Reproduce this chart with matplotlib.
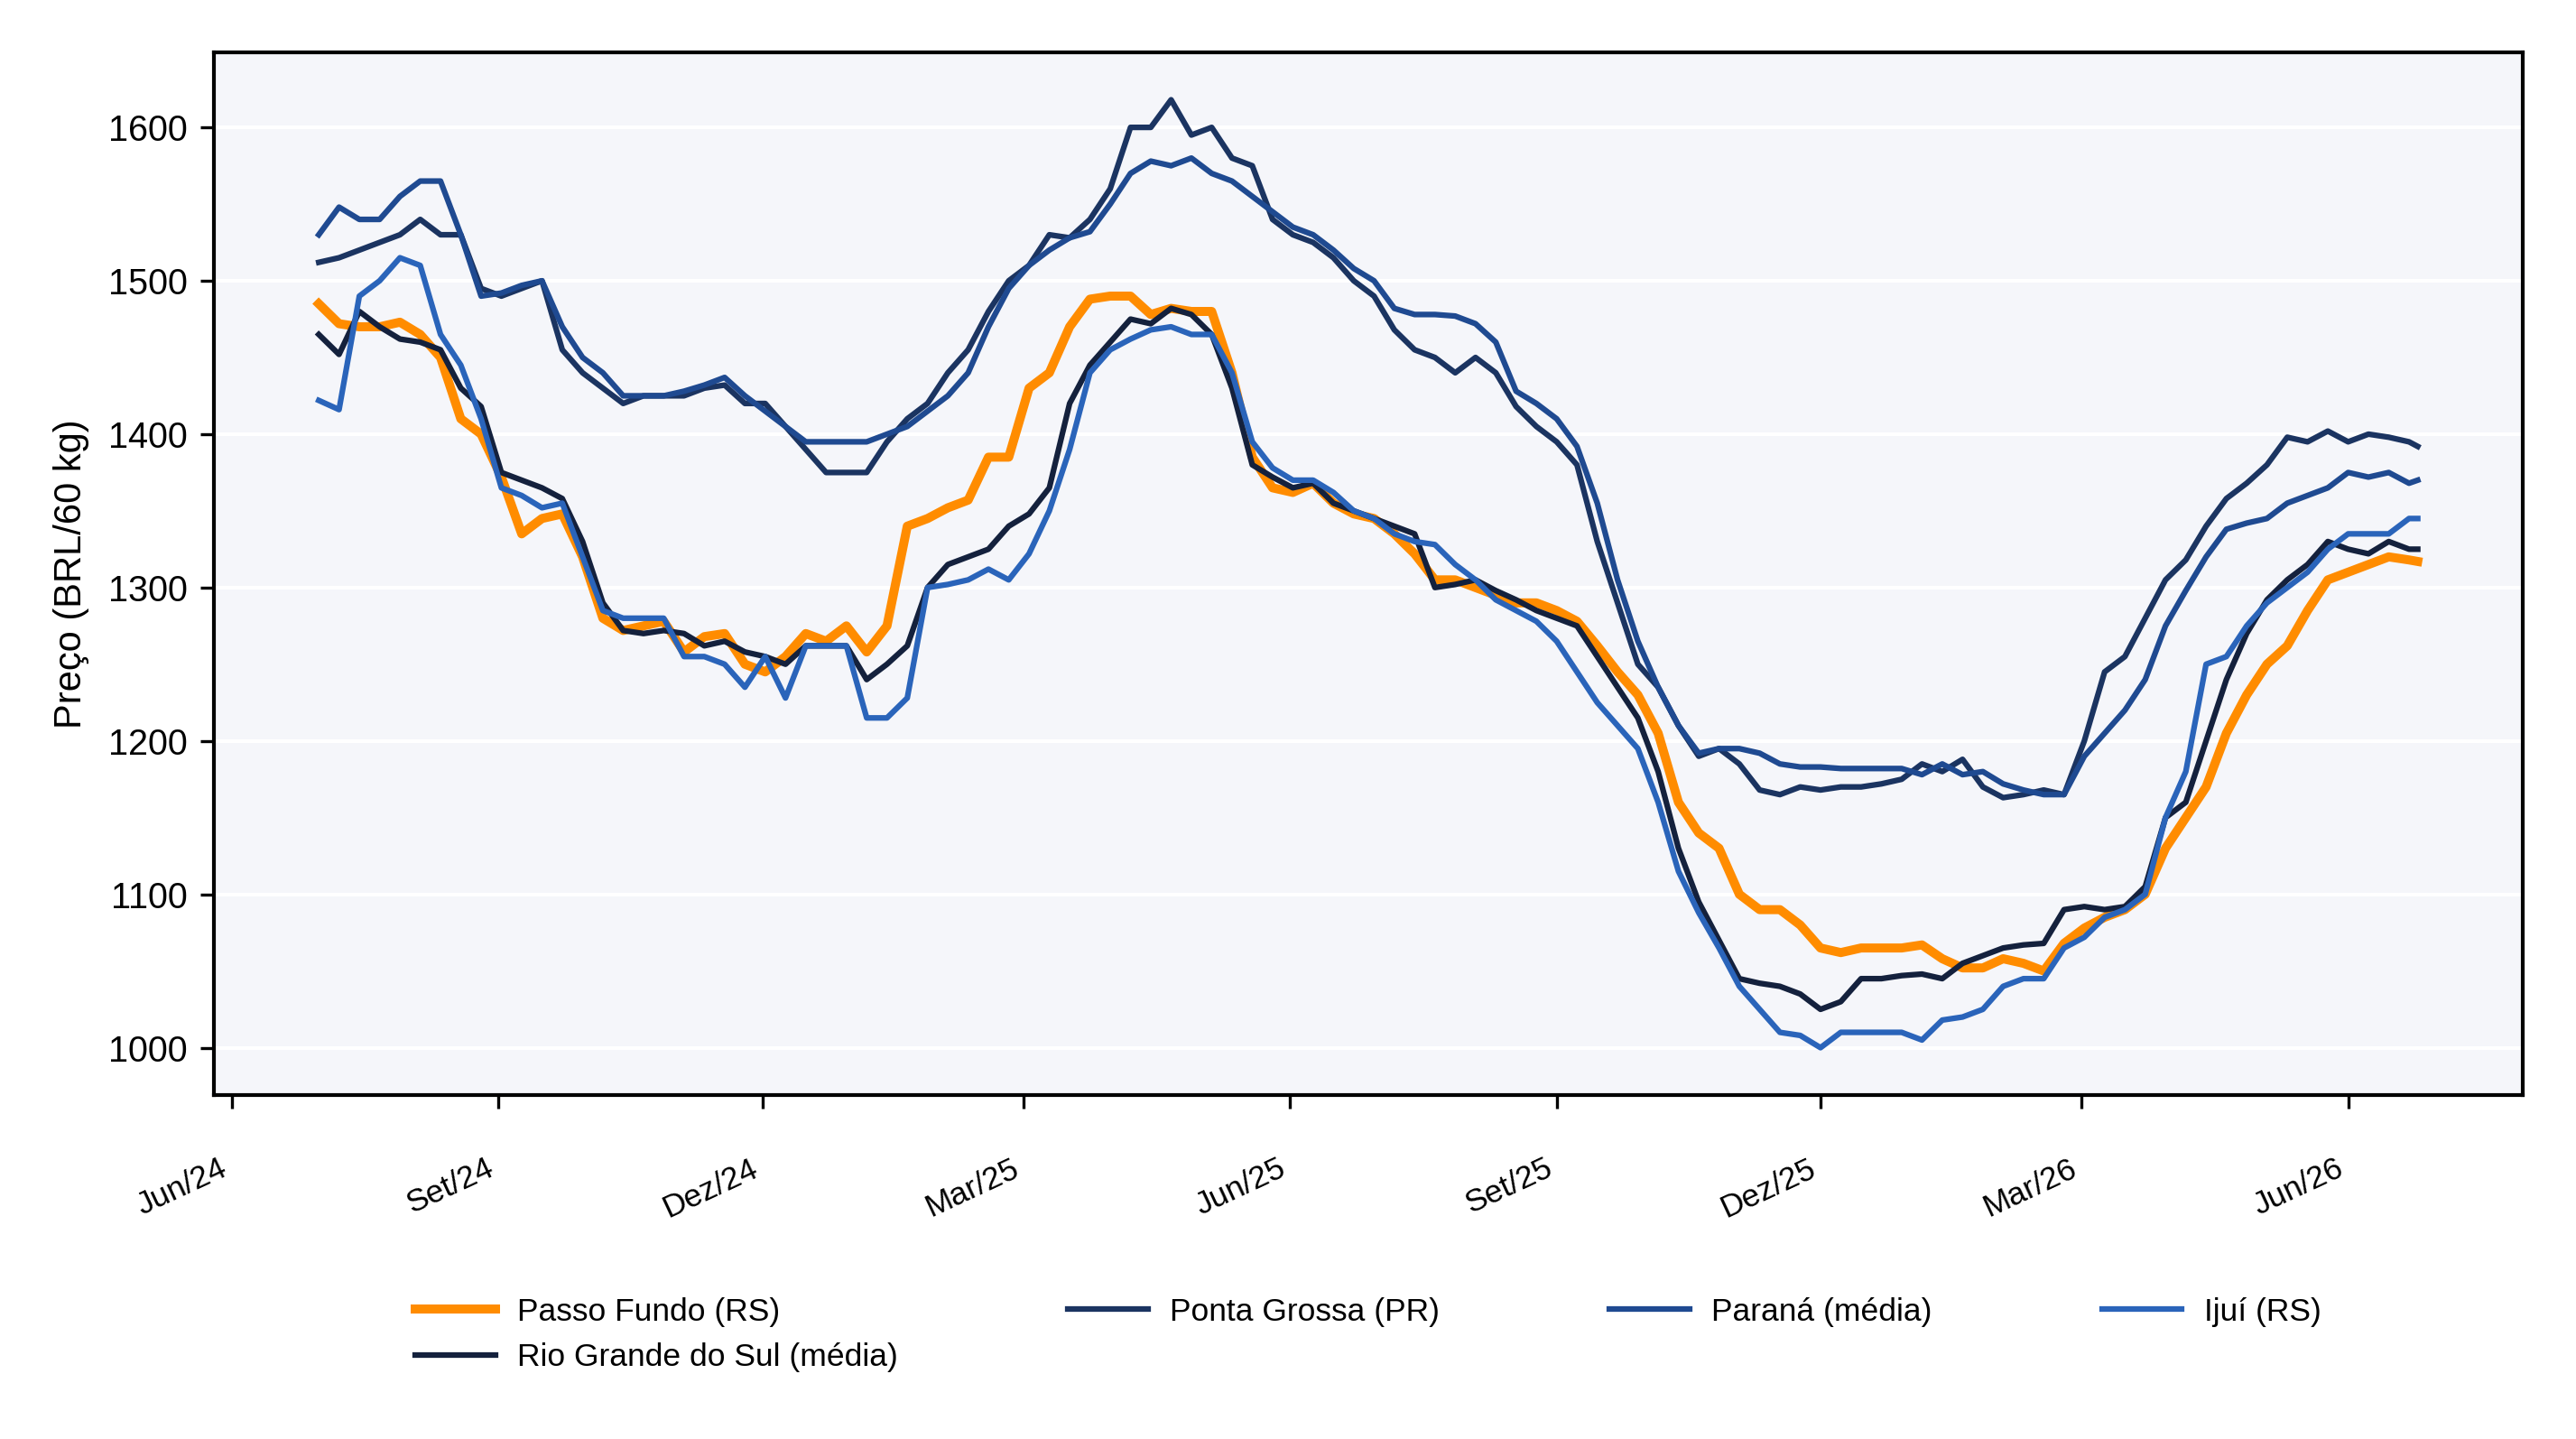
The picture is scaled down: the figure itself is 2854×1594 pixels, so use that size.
import pandas as pd
import matplotlib
matplotlib.use("Agg")
import matplotlib.pyplot as plt
import matplotlib.dates as mdates
from matplotlib.ticker import FuncFormatter

plt.rcParams["font.family"] = ["Liberation Sans", "DejaVu Sans"]

# weekly readings from 2024-07-01, last point 2026-06-25
dates = list(pd.date_range("2024-07-01", periods=104, freq="7D")) + [pd.Timestamp("2026-06-25")]

passo_fundo = [
    1485, 1472, 1470, 1470, 1473, 1465, 1450, 1410, 1400, 1372, 1335,
    1345, 1348, 1320, 1280, 1272, 1275, 1278, 1258, 1268, 1270, 1250, 1245, 1255, 1270, 1265, 1275, 1258, 1275, 1340, 1345,
    1352, 1357, 1385, 1385, 1430, 1440, 1470, 1488, 1490, 1490, 1478, 1482, 1480, 1480, 1440, 1385, 1365, 1362, 1368, 1355,
    1348, 1345, 1335, 1322, 1305, 1305, 1300, 1295, 1290, 1290, 1285, 1278, 1262, 1245, 1230, 1205, 1160, 1140, 1130, 1100,
    1090, 1090, 1080, 1065, 1062, 1065, 1065, 1065, 1067, 1058, 1052, 1052, 1058, 1055, 1050, 1068, 1078, 1085, 1090, 1100,
    1130, 1150, 1170, 1205, 1230, 1250, 1262, 1285, 1305, 1310, 1315, 1320, 1318,
    1317,
]
rs_media = [
    1465, 1452, 1480, 1470, 1462, 1460, 1455, 1430, 1418, 1375, 1370,
    1365, 1358, 1330, 1290, 1272, 1270, 1272, 1270, 1262, 1265, 1258, 1255, 1250, 1262, 1262, 1262, 1240, 1250, 1262, 1300,
    1315, 1320, 1325, 1340, 1348, 1365, 1420, 1445, 1460, 1475, 1472, 1482, 1478, 1465, 1430, 1380, 1372, 1365, 1368, 1355,
    1350, 1345, 1340, 1335, 1300, 1302, 1305, 1298, 1292, 1285, 1280, 1275, 1255, 1235, 1215, 1180, 1130, 1095, 1070, 1045,
    1042, 1040, 1035, 1025, 1030, 1045, 1045, 1047, 1048, 1045, 1055, 1060, 1065, 1067, 1068, 1090, 1092, 1090, 1092, 1105,
    1150, 1160, 1200, 1240, 1270, 1292, 1305, 1315, 1330, 1325, 1322, 1330, 1325,
    1325,
]
ponta_grossa = [
    1512, 1515, 1520, 1525, 1530, 1540, 1530, 1530, 1495, 1490, 1495,
    1500, 1455, 1440, 1430, 1420, 1425, 1425, 1425, 1430, 1432, 1420, 1420, 1405, 1390, 1375, 1375, 1375, 1395, 1410, 1420,
    1440, 1455, 1480, 1500, 1510, 1530, 1528, 1540, 1560, 1600, 1600, 1618, 1595, 1600, 1580, 1575, 1540, 1530, 1525, 1515,
    1500, 1490, 1468, 1455, 1450, 1440, 1450, 1440, 1418, 1405, 1395, 1380, 1330, 1290, 1250, 1235, 1210, 1190, 1195, 1185,
    1168, 1165, 1170, 1168, 1170, 1170, 1172, 1175, 1185, 1180, 1188, 1170, 1163, 1165, 1168, 1165, 1200, 1245, 1255, 1280,
    1305, 1318, 1340, 1358, 1368, 1380, 1398, 1395, 1402, 1395, 1400, 1398, 1395,
    1392,
]
parana = [
    1530, 1548, 1540, 1540, 1555, 1565, 1565, 1530, 1490, 1492, 1497,
    1500, 1470, 1450, 1440, 1425, 1425, 1425, 1428, 1432, 1437, 1425, 1415, 1405, 1395, 1395, 1395, 1395, 1400, 1405, 1415,
    1425, 1440, 1470, 1495, 1510, 1520, 1528, 1532, 1550, 1570, 1578, 1575, 1580, 1570, 1565, 1555, 1545, 1535, 1530, 1520,
    1508, 1500, 1482, 1478, 1478, 1477, 1472, 1460, 1428, 1420, 1410, 1392, 1355, 1305, 1265, 1235, 1210, 1192, 1195, 1195,
    1192, 1185, 1183, 1183, 1182, 1182, 1182, 1182, 1178, 1185, 1178, 1180, 1172, 1168, 1165, 1165, 1190, 1205, 1220, 1240,
    1275, 1298, 1320, 1338, 1342, 1345, 1355, 1360, 1365, 1375, 1372, 1375, 1368,
    1370,
]
ijui = [
    1422, 1416, 1490, 1500, 1515, 1510, 1465, 1445, 1410, 1365, 1360,
    1352, 1355, 1320, 1285, 1280, 1280, 1280, 1255, 1255, 1250, 1235, 1255, 1228, 1262, 1262, 1262, 1215, 1215, 1228, 1300,
    1302, 1305, 1312, 1305, 1322, 1350, 1390, 1440, 1455, 1462, 1468, 1470, 1465, 1465, 1440, 1395, 1378, 1370, 1370, 1362,
    1350, 1345, 1335, 1330, 1328, 1315, 1305, 1292, 1285, 1278, 1265, 1245, 1225, 1210, 1195, 1160, 1115, 1088, 1065, 1040,
    1025, 1010, 1008, 1000, 1010, 1010, 1010, 1010, 1005, 1018, 1020, 1025, 1040, 1045, 1045, 1065, 1072, 1085, 1090, 1100,
    1150, 1180, 1250, 1255, 1275, 1290, 1300, 1310, 1325, 1335, 1335, 1335, 1345,
    1345,
]

series = [
    ("Passo Fundo (RS)", passo_fundo, "#FF8C00", 2.4),
    ("Rio Grande do Sul (média)", rs_media, "#14213D", 1.5),
    ("Ponta Grossa (PR)", ponta_grossa, "#1B3461", 1.5),
    ("Paraná (média)", parana, "#1F4A91", 1.5),
    ("Ijuí (RS)", ijui, "#2A64BA", 1.5),
]

MESES = {3: "Mar", 6: "Jun", 9: "Set", 12: "Dez"}


def fmt_mes(x, pos):
    d = mdates.num2date(x)
    return f"{MESES.get(d.month, d.strftime('%b'))}/{d.strftime('%y')}"


fig, ax = plt.subplots(figsize=(2854 / 300, 1594 / 300), dpi=300)
fig.subplots_adjust(left=0.083, right=0.9793, top=0.9636, bottom=0.239)

for label, vals, color, lw in series:
    ax.plot(dates, vals, color=color, lw=lw, label=label)

ax.set_facecolor("#F5F6FA")
ax.grid(axis="y", color="white", lw=1.0)
ax.set_axisbelow(True)
for sp in ax.spines.values():
    sp.set_linewidth(1.0)

ax.xaxis.set_major_locator(mdates.MonthLocator(bymonth=[3, 6, 9, 12]))
ax.xaxis.set_major_formatter(FuncFormatter(fmt_mes))
ax.tick_params(axis="x", labelsize=8.5, pad=12)
ax.tick_params(axis="y", labelsize=9.5)
plt.setp(ax.get_xticklabels(), rotation=25, ha="right")

ax.set_ylabel("Preço (BRL/60 kg)", fontsize=10, labelpad=5)

ax.legend(loc="upper center", bbox_to_anchor=(0.5, -0.166), ncol=4, frameon=False,
          fontsize=8.5, columnspacing=5.3, handlelength=2.5, handletextpad=0.7)

fig.savefig("out.png", dpi=300)
